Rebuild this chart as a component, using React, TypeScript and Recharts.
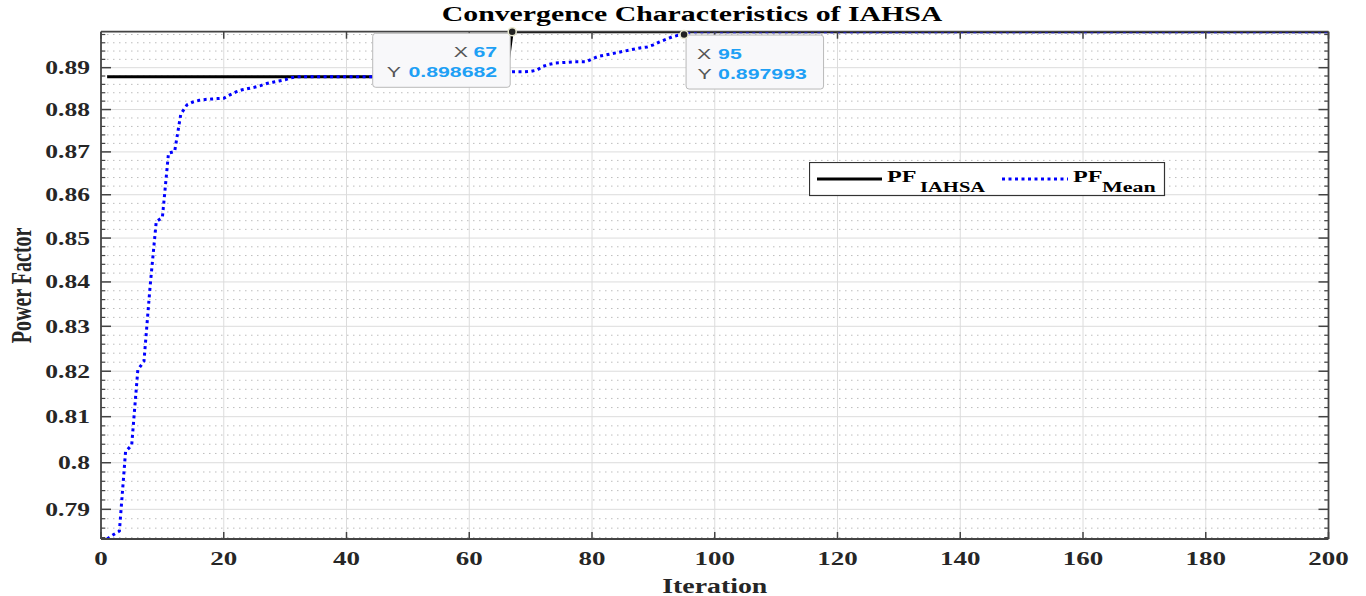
import React from 'react';
import {
  LineChart,
  Line,
  XAxis,
  YAxis,
  CartesianGrid,
  ReferenceLine,
  ReferenceDot,
  Legend,
  Customized,
} from 'recharts';

// ---------- data ----------
const ITER_IAHSA = [1, 66, 67, 200];
const PF_IAHSA = [0.8878, 0.8878, 0.898682, 0.898682];

const ITER_MEAN = [
  1, 2, 3, 4, 5, 6, 7, 8, 9, 10, 11, 12, 13, 14, 15, 16, 17, 18, 19, 20, 21, 22, 23, 24, 25, 26, 27, 28, 29, 30, 31, 32, 33,
  44, 55, 62,
  66, 67, 68, 69, 70, 71, 72, 73, 74, 75, 76, 77, 78, 79, 80, 81, 82, 83, 84, 85, 86, 87, 88, 89, 90, 91, 92, 93, 94, 95, 96,
  200,
];
const PF_MEAN = [
  0.7837, 0.7846, 0.7854, 0.8024, 0.8038, 0.8203, 0.8222, 0.839, 0.8538, 0.8547, 0.8697, 0.8701, 0.8789, 0.8811, 0.8818,
  0.8822, 0.8824, 0.8825, 0.8826, 0.8827, 0.8835, 0.8842, 0.8847, 0.885, 0.8853, 0.8857, 0.8862, 0.8865, 0.8868, 0.8871,
  0.8876, 0.8878, 0.8878,
  0.8878, 0.8883, 0.8887,
  0.8889, 0.889, 0.889, 0.889, 0.8891, 0.8894, 0.8903, 0.8908, 0.8911, 0.8912, 0.8913, 0.8914, 0.8914, 0.8914, 0.8921,
  0.8927, 0.893, 0.8933, 0.8936, 0.8939, 0.8942, 0.8945, 0.8948, 0.895, 0.8955, 0.8962, 0.8968, 0.8974, 0.8978, 0.897993,
  0.898682,
  0.898682,
];

const TIP_X = [67, 95];
const TIP_Y = [0.898682, 0.897993];

const X_TICKS = [0, 20, 40, 60, 80, 100, 120, 140, 160, 180, 200];
const Y_TICKS = [0.79, 0.8, 0.81, 0.82, 0.83, 0.84, 0.85, 0.86, 0.87, 0.88, 0.89];
const X_MIN = 0;
const X_MAX = 200;
const Y_MIN = 0.7837;
const Y_MAX = 0.898682;

const TITLE = 'Convergence Characteristics of IAHSA';
const X_LABEL = 'Iteration';
const Y_LABEL = 'Power Factor';
const SERIES = [
  { main: 'PF', sub: 'IAHSA' },
  { main: 'PF', sub: 'Mean' },
];

const iahsaData = ITER_IAHSA.map((x, i) => ({ x, y: PF_IAHSA[i] }));
const meanData = ITER_MEAN.map((x, i) => ({ x, y: PF_MEAN[i] }));

// minor tick values (axis decoration)
const Y_MINOR: number[] = [];
for (let k = 0; k < 12; k++) {
  for (let j = 1; j <= 4; j++) {
    const v = Math.round((0.78 + k * 0.01 + j * 0.002) * 10000) / 10000;
    if (v > Y_MIN && v < Y_MAX) Y_MINOR.push(v);
  }
}

// ---------- layout ----------
const W = 1366;
const H = 596;
const PLOT_LEFT = 101;
const PLOT_RIGHT = 1328.5;
const PLOT_TOP = 31.7;
const PLOT_BOTTOM = 539;
const Y_AXIS_W = 60;
const X_AXIS_H = 30;
const PX_PER_X = (PLOT_RIGHT - PLOT_LEFT) / (X_MAX - X_MIN);
const PX_PER_LN = (PLOT_BOTTOM - PLOT_TOP) / Math.log(Y_MAX / Y_MIN);
const SX = 1.42;
const SERIF = "'Liberation Serif', 'Times New Roman', serif";
const SANS = "'Liberation Sans', Arial, sans-serif";
const FRAME = '#444';

const dxUnits = (px: number) => px / PX_PER_X;
const yUp = (v: number, px: number) => v * Math.exp(px / PX_PER_LN);

const YTick = (p: any) => (
  <g transform={`translate(${p.x},${p.y}) scale(${SX},1)`}>
    <text x={0} y={6.5} textAnchor="end" fontFamily={SERIF} fontWeight="bold" fontSize={18} fill="#262626">
      {String(p.payload.value)}
    </text>
  </g>
);

const XTick = (p: any) => (
  <g transform={`translate(${p.x},${p.y}) scale(${SX},1)`}>
    <text x={0} y={26} textAnchor="middle" fontFamily={SERIF} fontWeight="bold" fontSize={19} fill="#262626">
      {String(p.payload.value)}
    </text>
  </g>
);

const YLabel = (p: any) => {
  const vb = p.viewBox || {};
  const cx = vb.x - 19;
  const cy = vb.y + vb.height / 2;
  return (
    <g transform={`translate(${cx},${cy}) rotate(-90) scale(1,${SX})`}>
      <text x={0} y={6} textAnchor="middle" fontFamily={SERIF} fontWeight="bold" fontSize={20} fill="#262626">
        {Y_LABEL}
      </text>
    </g>
  );
};

const XLabel = (p: any) => {
  const vb = p.viewBox || {};
  const cx = vb.x + vb.width / 2;
  return (
    <g transform={`translate(${cx},${vb.y + 54}) scale(${SX * 0.98},1)`}>
      <text x={0} y={0} textAnchor="middle" fontFamily={SERIF} fontWeight="bold" fontSize={20} fill="#262626">
        {X_LABEL}
      </text>
    </g>
  );
};

const Title = () => (
  <g transform={`translate(692,20.5) scale(${SX},1)`}>
    <text x={0} y={0} textAnchor="middle" fontFamily={SERIF} fontWeight="bold" fontSize={21} fill="#000">
      {TITLE}
    </text>
  </g>
);

const LegendBox = () => (
  <svg width={357} height={35} style={{ display: 'block' }}>
    <rect x={0.5} y={0.5} width={355} height={33} fill="#fff" stroke="#333" strokeWidth={1.2} />
    <line x1={8} x2={73} y1={17} y2={17} stroke="#000" strokeWidth={3} />
    <g transform={`translate(78,19.5) scale(${SX},1)`}>
      <text fontFamily={SERIF} fontWeight="bold" fontSize={17} fill="#000">{SERIES[0].main}</text>
    </g>
    <g transform={`translate(111,29.5) scale(${SX},1)`}>
      <text fontFamily={SERIF} fontWeight="bold" fontSize={14.5} fill="#000">{SERIES[0].sub}</text>
    </g>
    <line x1={193} x2={259} y1={17} y2={17} stroke="#0000ff" strokeWidth={3} strokeDasharray="3 3.5" />
    <g transform={`translate(264,19.5) scale(${SX},1)`}>
      <text fontFamily={SERIF} fontWeight="bold" fontSize={17} fill="#000">{SERIES[1].main}</text>
    </g>
    <g transform={`translate(293,29.5) scale(${SX},1)`}>
      <text fontFamily={SERIF} fontWeight="bold" fontSize={15.5} fill="#000">{SERIES[1].sub}</text>
    </g>
  </svg>
);

const makeTip = (side: 'left' | 'right', xv: number, yv: number) => (p: any) => {
  const cx = p.cx;
  const cy = p.cy;
  const bw = 137.5;
  const bh = 54;
  const bx = side === 'left' ? cx - 139.5 : cx + 2;
  const by = side === 'left' ? cy + 1.6 : cy + 0.5;
  const labStyle = { fontFamily: SANS, fontSize: 15, fill: '#555' } as any;
  const valStyle = { fontFamily: SANS, fontSize: 15, fill: '#1ea0f5', fontWeight: 'bold' } as any;
  return (
    <g>
      <rect x={bx} y={by} width={bw} height={bh} rx={3} fill="#f8f8fa" stroke="#b9b9b9" strokeWidth={1} />
      {side === 'left' ? (
        <>
          <g transform={`translate(${bx + 81},${by + 24}) scale(${SX},1)`}><text style={labStyle}>X</text></g>
          <g transform={`translate(${bx + 124.5},${by + 24}) scale(${SX},1)`}><text style={valStyle} textAnchor="end">{String(xv)}</text></g>
          <g transform={`translate(${bx + 14},${by + 44}) scale(${SX},1)`}><text style={labStyle}>Y</text></g>
          <g transform={`translate(${bx + 124.5},${by + 44}) scale(${SX},1)`}><text style={valStyle} textAnchor="end">{yv.toFixed(6)}</text></g>
        </>
      ) : (
        <>
          <g transform={`translate(${bx + 11},${by + 24}) scale(${SX},1)`}><text style={labStyle}>X</text></g>
          <g transform={`translate(${bx + 32},${by + 24}) scale(${SX},1)`}><text style={valStyle}>{String(xv)}</text></g>
          <g transform={`translate(${bx + 11.5},${by + 44}) scale(${SX},1)`}><text style={labStyle}>Y</text></g>
          <g transform={`translate(${bx + 32},${by + 44}) scale(${SX},1)`}><text style={valStyle}>{yv.toFixed(6)}</text></g>
        </>
      )}
      <circle cx={cx} cy={cy} r={4} fill="#222" stroke="#e9e9d0" strokeWidth={1.5} />
    </g>
  );
};

export default function App() {
  const majorLen = dxUnits(10);
  const minorLen = dxUnits(4.3);
  return (
    <div style={{ position: 'absolute', left: 0, top: 0, width: W, height: H, background: '#fff' }}>
      <LineChart
        width={W}
        height={H}
        margin={{ top: PLOT_TOP, right: W - PLOT_RIGHT, bottom: H - PLOT_BOTTOM - X_AXIS_H, left: PLOT_LEFT - Y_AXIS_W }}
      >
        <CartesianGrid stroke="#dcdcdc" strokeWidth={1} />
        <XAxis
          type="number"
          dataKey="x"
          domain={[X_MIN, X_MAX]}
          ticks={X_TICKS}
          interval={0}
          allowDataOverflow
          height={X_AXIS_H}
          tickLine={false}
          tickSize={0}
          tickMargin={0}
          axisLine={{ stroke: FRAME, strokeWidth: 1.8 }}
          tick={(p: any) => <XTick {...p} />}
          label={(p: any) => <XLabel {...p} />}
        />
        <YAxis
          type="number"
          scale="log"
          domain={[Y_MIN, Y_MAX]}
          ticks={Y_TICKS}
          interval={0}
          allowDataOverflow
          width={Y_AXIS_W}
          tickLine={false}
          tickSize={0}
          tickMargin={11}
          axisLine={{ stroke: FRAME, strokeWidth: 1.8 }}
          tick={(p: any) => <YTick {...p} />}
          label={(p: any) => <YLabel {...p} />}
        />
        {Y_MINOR.map((v) => (
          <ReferenceLine key={'mg' + v} y={v} stroke="#bdbdbd" strokeWidth={1} strokeDasharray="1.5 4.5" ifOverflow="visible" />
        ))}
        <Line
          data={iahsaData}
          dataKey="y"
          type="linear"
          stroke="#000"
          strokeWidth={3}
          dot={false}
          activeDot={false}
          isAnimationActive={false}
        />
        <Line
          data={meanData}
          dataKey="y"
          type="linear"
          stroke="#0000ff"
          strokeWidth={3}
          strokeDasharray="3 3.5"
          dot={false}
          activeDot={false}
          isAnimationActive={false}
        />
        {/* frame */}
        <ReferenceLine y={Y_MAX} stroke={FRAME} strokeWidth={1.8} ifOverflow="visible" />
        <ReferenceLine x={X_MAX} stroke={FRAME} strokeWidth={1.8} ifOverflow="visible" />
        {/* inward ticks */}
        {Y_TICKS.map((v) => (
          <ReferenceLine key={'yl' + v} segment={[{ x: X_MIN, y: v }, { x: X_MIN + majorLen, y: v }]} stroke={FRAME} strokeWidth={1.5} ifOverflow="visible" />
        ))}
        {Y_TICKS.map((v) => (
          <ReferenceLine key={'yr' + v} segment={[{ x: X_MAX - majorLen, y: v }, { x: X_MAX, y: v }]} stroke={FRAME} strokeWidth={1.5} ifOverflow="visible" />
        ))}
        {Y_MINOR.map((v) => (
          <ReferenceLine key={'ml' + v} segment={[{ x: X_MIN, y: v }, { x: X_MIN + minorLen, y: v }]} stroke={FRAME} strokeWidth={1.2} ifOverflow="visible" />
        ))}
        {Y_MINOR.map((v) => (
          <ReferenceLine key={'mr' + v} segment={[{ x: X_MAX - minorLen, y: v }, { x: X_MAX, y: v }]} stroke={FRAME} strokeWidth={1.2} ifOverflow="visible" />
        ))}
        {X_TICKS.map((t) => (
          <ReferenceLine key={'xb' + t} segment={[{ x: t, y: Y_MIN }, { x: t, y: yUp(Y_MIN, 7) }]} stroke={FRAME} strokeWidth={1.5} ifOverflow="visible" />
        ))}
        {X_TICKS.map((t) => (
          <ReferenceLine key={'xt' + t} segment={[{ x: t, y: yUp(Y_MAX, -7) }, { x: t, y: Y_MAX }]} stroke={FRAME} strokeWidth={1.5} ifOverflow="visible" />
        ))}
        <ReferenceDot x={TIP_X[0]} y={TIP_Y[0]} r={4} ifOverflow="visible" shape={makeTip('left', TIP_X[0], TIP_Y[0])} />
        <ReferenceDot x={TIP_X[1]} y={TIP_Y[1]} r={4} ifOverflow="visible" shape={makeTip('right', TIP_X[1], TIP_Y[1])} />
        <Legend
          verticalAlign="middle"
          align="center"
          layout="horizontal"
          content={() => <LegendBox />}
          wrapperStyle={{ left: 809, top: 162, width: 357, height: 35 }}
        />
        <Customized component={Title} />
      </LineChart>
    </div>
  );
}
